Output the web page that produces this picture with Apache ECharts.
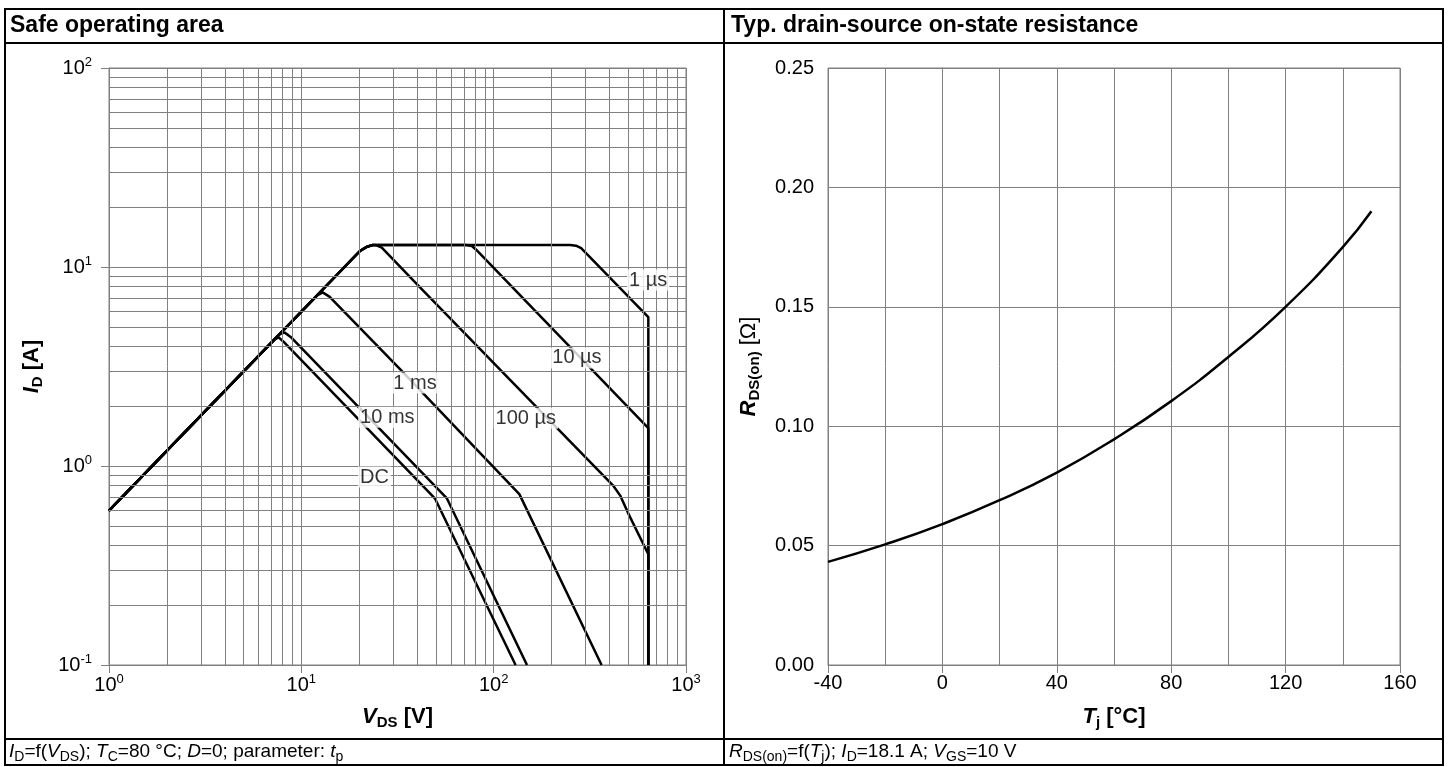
<!DOCTYPE html>
<html>
<head>
<meta charset="utf-8">
<script src="https://cdn.jsdelivr.net/npm/echarts@6/dist/echarts.min.js"></script>
<style>
html,body{margin:0;padding:0;background:#fff;}
#chart{width:1448px;height:767px;}
</style>
</head>
<body>
<div id="chart"></div>
<script>
// ---------------- DATA ----------------
// Safe operating area curves: [V_DS (V), I_D (A)]
const curve1us   = [[1,0.596],[20.2,12.05],[22,12.65],[23.5,12.9],[250,12.9],[268,12.8],[285,12.45],[637,5.6],[637,0.1]];
const curve10us  = [[1,0.596],[20.2,12.05],[22,12.65],[23.5,12.9],[72,12.9],[77,12.75],[82,12.1],[637,1.55],[637,0.1]];
const curve100us = [[1,0.596],[20.2,12.05],[22,12.65],[23.5,12.9],[24.6,12.85],[26.2,12.5],[41.4,7.91],[161,2.05],[417,0.80],[455,0.71],[500,0.58],[637,0.36],[637,0.1]];
const curve1ms   = [[1,0.596],[12.1,7.21],[12.9,7.45],[14.0,7.1],[32.6,3.07],[136,0.722],[364,0.1]];
const curve10ms  = [[1,0.596],[7.75,4.62],[8.2,4.68],[8.8,4.45],[57,0.69],[149,0.1]];
const curveDC    = [[1,0.596],[7.3,4.35],[7.65,4.42],[8.1,4.2],[49.6,0.685],[130,0.1]];

// curve labels: text, V_DS, I_D
const soaLabelText = ['1 µs','10 µs','100 µs','1 ms','10 ms','DC'];
const soaLabelV    = [635, 271, 147, 39, 28, 24];
const soaLabelI    = [8.6, 3.49, 1.74, 2.61, 1.76, 0.88];

// log grid
const decadesX = [1, 10, 100];
const decadesY = [0.1, 1, 10];
const minorFactors = [2,3,4,5,6,7,8,9];

// Typ. drain-source on-state resistance
const tjValues  = [-40,-20,0,20,40,60,80,100,120,140,150];
const rdsValues = [0.0432,0.0505,0.0590,0.0690,0.0806,0.0945,0.1105,0.1290,0.1500,0.1750,0.1900];

// ---------------- STYLE ----------------
const FONT = '"Liberation Sans", Arial, Helvetica, sans-serif';
const GRID_COLOR = '#808080';
const FS = 20;
const NFS = 22;

const powRich = {
  b: {fontSize: FS, lineHeight: 24, fontFamily: FONT, color: '#000'},
  s: {fontSize: 13, lineHeight: 13, verticalAlign: 'top', fontFamily: FONT, color: '#000'}
};
function powLabel(v) {
  const e = Math.round(Math.log10(v));
  return '{b|10}{s|' + e + '}';
}
const nameRich = {
  i: {fontSize: NFS, lineHeight: 26, fontWeight: 'bold', fontStyle: 'italic', fontFamily: FONT, color: '#000'},
  s: {fontSize: 15, lineHeight: 15, fontWeight: 'bold', verticalAlign: 'bottom', fontFamily: FONT, color: '#000'},
  b: {fontSize: NFS, lineHeight: 26, fontWeight: 'bold', fontFamily: FONT, color: '#000'},
  n: {fontSize: NFS, lineHeight: 26, fontWeight: 'normal', fontFamily: FONT, color: '#000'}
};
const footRich = {
  i: {fontSize: 19, lineHeight: 24, fontStyle: 'italic', fontFamily: FONT, fill: '#000', color: '#000'},
  s: {fontSize: 14, lineHeight: 14, verticalAlign: 'bottom', fontFamily: FONT, fill: '#000', color: '#000'}
};

const minorX = [], minorY = [];
decadesX.forEach(d => minorFactors.forEach(f => minorX.push({xAxis: d * f})));
decadesY.forEach(d => minorFactors.forEach(f => minorY.push({yAxis: d * f})));

const lineStyleCurve = {color: '#000', width: 2.5};
function curveSeries(name, data) {
  return {
    name: name, type: 'line', xAxisIndex: 0, yAxisIndex: 0, data: data,
    symbol: 'none', lineStyle: lineStyleCurve, z: 3, silent: true, animation: false
  };
}

const chart = echarts.init(document.getElementById('chart'), null, {renderer: 'canvas'});

const option = {
  animation: false,
  backgroundColor: '#fff',
  textStyle: {fontFamily: FONT},
  grid: [
    {left: 109, top: 68, width: 577, height: 597, show: true, borderColor: GRID_COLOR, borderWidth: 1, backgroundColor: 'transparent'},
    {left: 828, top: 68, width: 572, height: 597, show: true, borderColor: GRID_COLOR, borderWidth: 1, backgroundColor: 'transparent'}
  ],
  xAxis: [
    {
      type: 'log', gridIndex: 0, min: 1, max: 1000, logBase: 10,
      axisLine: {show: true, lineStyle: {color: GRID_COLOR, width: 1}},
      axisTick: {show: true, length: 8, lineStyle: {color: GRID_COLOR}},
      axisLabel: {formatter: powLabel, rich: powRich, margin: 8, color: '#000'},
      splitLine: {show: true, lineStyle: {color: GRID_COLOR, width: 1}},
      name: '{i|V}{s|DS}{b| [V]}', nameLocation: 'middle', nameGap: 39,
      nameTextStyle: {rich: nameRich}
    },
    {
      type: 'value', gridIndex: 1, min: -40, max: 160, interval: 40,
      axisLine: {show: true, lineStyle: {color: GRID_COLOR, width: 1}},
      axisTick: {show: true, length: 8, lineStyle: {color: GRID_COLOR}},
      axisLabel: {fontSize: FS, fontFamily: FONT, color: '#000', margin: 8},
      splitLine: {show: true, lineStyle: {color: GRID_COLOR, width: 1}},
      minorTick: {show: false, splitNumber: 2},
      minorSplitLine: {show: true, lineStyle: {color: GRID_COLOR, width: 1}},
      name: '{i|T}{s|j}{b| [°C]}', nameLocation: 'middle', nameGap: 39,
      nameTextStyle: {rich: nameRich}
    }
  ],
  yAxis: [
    {
      type: 'log', gridIndex: 0, min: 0.1, max: 100, logBase: 10,
      axisLine: {show: true, lineStyle: {color: GRID_COLOR, width: 1}},
      axisTick: {show: true, length: 8, lineStyle: {color: GRID_COLOR}},
      axisLabel: {formatter: powLabel, rich: powRich, margin: 17, color: '#000'},
      splitLine: {show: true, lineStyle: {color: GRID_COLOR, width: 1}},
      name: '{i|I}{s|D}{b| [A]}', nameLocation: 'middle', nameGap: 64,
      nameTextStyle: {rich: nameRich}
    },
    {
      type: 'value', gridIndex: 1, min: 0, max: 0.25, interval: 0.05,
      axisLine: {show: true, lineStyle: {color: GRID_COLOR, width: 1}},
      axisTick: {show: true, length: 8, lineStyle: {color: GRID_COLOR}},
      axisLabel: {fontSize: FS, fontFamily: FONT, color: '#000', margin: 14,
        formatter: v => v.toFixed(2)},
      splitLine: {show: true, lineStyle: {color: GRID_COLOR, width: 1}},
      name: '{i|R}{s|DS(on)}{n| [Ω]}', nameLocation: 'middle', nameGap: 66,
      nameTextStyle: {rich: nameRich}
    }
  ],
  series: [
    {
      name: 'grid', type: 'line', xAxisIndex: 0, yAxisIndex: 0, data: [[1, 0.1]],
      symbol: 'none', lineStyle: {width: 0}, z: 1, silent: true,
      markLine: {
        silent: true, symbol: ['none', 'none'], animation: false,
        label: {show: false},
        lineStyle: {color: GRID_COLOR, width: 1, type: 'solid'},
        emphasis: {disabled: true},
        data: minorX.concat(minorY)
      }
    },
    curveSeries('1 µs', curve1us),
    curveSeries('10 µs', curve10us),
    curveSeries('100 µs', curve100us),
    curveSeries('1 ms', curve1ms),
    curveSeries('10 ms', curve10ms),
    curveSeries('DC', curveDC),
    {
      name: 'labels', type: 'scatter', xAxisIndex: 0, yAxisIndex: 0,
      data: soaLabelText.map((t, i) => [soaLabelV[i], soaLabelI[i], t]),
      symbolSize: 1, itemStyle: {color: 'rgba(0,0,0,0)'}, z: 10, silent: true,
      label: {
        show: true, position: 'inside', formatter: p => p.data[2],
        fontSize: FS, fontFamily: FONT, color: '#000',
        backgroundColor: '#fff', padding: [1, 2, 0, 2]
      }
    },
    {
      name: 'RDS(on)', type: 'line', xAxisIndex: 1, yAxisIndex: 1,
      data: tjValues.map((t, i) => [t, rdsValues[i]]),
      smooth: true, symbol: 'none', lineStyle: {color: '#000', width: 2.5}, z: 3, silent: true
    }
  ],
  graphic: [
    {type: 'rect', silent: true, shape: {x: 5, y: 9, width: 1438, height: 756}, style: {fill: 'none', stroke: '#000', lineWidth: 2}},
    {type: 'line', silent: true, shape: {x1: 5, y1: 43, x2: 1443, y2: 43}, style: {stroke: '#000', lineWidth: 2}},
    {type: 'line', silent: true, shape: {x1: 5, y1: 739, x2: 1443, y2: 739}, style: {stroke: '#000', lineWidth: 2}},
    {type: 'line', silent: true, shape: {x1: 724, y1: 9, x2: 724, y2: 765}, style: {stroke: '#000', lineWidth: 2}},
    {type: 'text', silent: true, x: 10, y: 26, style: {text: 'Safe operating area', font: 'bold 23px ' + FONT, fill: '#000', align: 'left', verticalAlign: 'middle'}},
    {type: 'text', silent: true, x: 731, y: 26, style: {text: 'Typ. drain-source on-state resistance', font: 'bold 23px ' + FONT, fill: '#000', align: 'left', verticalAlign: 'middle'}},
    {type: 'text', silent: true, x: 9, y: 752, style: {
      text: '{i|I}{s|D}=f({i|V}{s|DS}); {i|T}{s|C}=80 °C; {i|D}=0; parameter: {i|t}{s|p}',
      fontSize: 19, fontFamily: FONT, lineHeight: 24, fill: '#000', align: 'left', verticalAlign: 'middle', rich: footRich}},
    {type: 'text', silent: true, x: 729, y: 752, style: {
      text: '{i|R}{s|DS(on)}=f({i|T}{s|j}); {i|I}{s|D}=18.1 A; {i|V}{s|GS}=10 V',
      fontSize: 19, fontFamily: FONT, lineHeight: 24, fill: '#000', align: 'left', verticalAlign: 'middle', rich: footRich}}
  ]
};
chart.setOption(option);
</script>
</body>
</html>
